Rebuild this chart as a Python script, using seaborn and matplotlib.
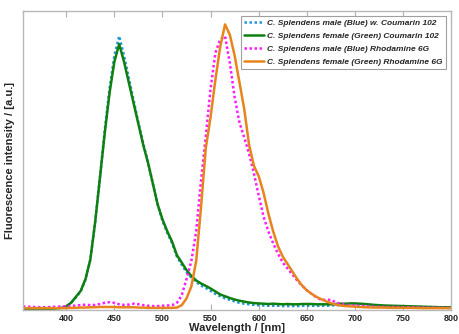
import matplotlib
matplotlib.use("Agg")
import matplotlib.pyplot as plt
import seaborn as sns
import pandas as pd

# wavelength grid (nm)
wavelength = [355, 365, 375, 385,
              395, 400, 405, 410, 415, 420, 425, 430, 435, 440, 445, 450, 455, 460, 465, 470,
              475, 480, 485, 490, 495, 500, 505, 510, 515, 520, 525, 530, 535, 540, 545, 550,
              555, 560, 565, 570, 575, 580, 585, 590, 595, 600, 605, 610, 615, 620, 625, 630,
              635, 640, 645, 650, 655, 660, 665, 670, 675, 680, 685, 690, 695, 700,
              710, 720, 730, 740, 750, 760, 770, 780, 790, 800]

male_coumarin = [0.0, 0.0, 0.0, 0.0,
                 0.003, 0.008, 0.02, 0.038, 0.058, 0.098, 0.165, 0.29, 0.44, 0.6, 0.74, 0.85, 0.916, 0.85, 0.775, 0.70,
                 0.625, 0.555, 0.49, 0.42, 0.35, 0.295, 0.255, 0.22, 0.175, 0.148, 0.122, 0.105, 0.09, 0.078, 0.07, 0.06,
                 0.05, 0.042, 0.035, 0.03, 0.025, 0.02, 0.017, 0.015, 0.013, 0.012, 0.011, 0.01, 0.01, 0.01, 0.009, 0.009,
                 0.009, 0.009, 0.01, 0.01, 0.01, 0.01, 0.01, 0.01, 0.011, 0.012, 0.012, 0.013, 0.013, 0.013,
                 0.011, 0.01, 0.009, 0.008, 0.007, 0.006, 0.005, 0.004, 0.004, 0.003]

female_coumarin = [0.0, 0.0, 0.0, 0.0,
                   0.003, 0.008, 0.02, 0.04, 0.06, 0.1, 0.165, 0.29, 0.44, 0.59, 0.725, 0.83, 0.889, 0.83, 0.76, 0.69,
                   0.62, 0.55, 0.49, 0.42, 0.35, 0.30, 0.26, 0.225, 0.18, 0.155, 0.13, 0.11, 0.095, 0.085, 0.077, 0.068,
                   0.058, 0.048, 0.042, 0.036, 0.031, 0.027, 0.024, 0.021, 0.019, 0.018, 0.017, 0.016, 0.017, 0.016, 0.015, 0.016,
                   0.015, 0.015, 0.016, 0.016, 0.016, 0.015, 0.015, 0.015, 0.015, 0.016, 0.017, 0.017, 0.018, 0.018,
                   0.016, 0.013, 0.011, 0.01, 0.009, 0.008, 0.007, 0.006, 0.005, 0.005]

male_rhodamine = [0.008, 0.006, 0.005, 0.006,
                  0.008, 0.008, 0.009, 0.011, 0.012, 0.014, 0.012, 0.013, 0.016, 0.02, 0.022, 0.02, 0.015, 0.013, 0.014, 0.017,
                  0.015, 0.012, 0.01, 0.009, 0.009, 0.01, 0.011, 0.012, 0.02, 0.045, 0.1, 0.16, 0.26, 0.43, 0.58, 0.74,
                  0.86, 0.905, 0.915, 0.825, 0.71, 0.625, 0.575, 0.52, 0.455, 0.38, 0.31, 0.26, 0.22, 0.185, 0.155, 0.135,
                  0.115, 0.095, 0.078, 0.062, 0.05, 0.038, 0.03, 0.03, 0.03, 0.022, 0.016, 0.013, 0.012, 0.011,
                  0.009, 0.007, 0.006, 0.006, 0.005, 0.005, 0.004, 0.004, 0.003, 0.003]

female_rhodamine = [0.002, 0.002, 0.002, 0.002,
                    0.002, 0.002, 0.003, 0.003, 0.004, 0.004, 0.005, 0.005, 0.006, 0.006, 0.006, 0.006, 0.005, 0.005, 0.005, 0.005,
                    0.004, 0.004, 0.003, 0.003, 0.003, 0.003, 0.003, 0.003, 0.004, 0.012, 0.035, 0.075, 0.16, 0.34, 0.54, 0.645,
                    0.77, 0.88, 0.955, 0.92, 0.85, 0.76, 0.67, 0.55, 0.48, 0.445, 0.39, 0.32, 0.26, 0.21, 0.175, 0.15,
                    0.125, 0.1, 0.078, 0.062, 0.05, 0.04, 0.032, 0.025, 0.019, 0.014, 0.011, 0.009, 0.008, 0.007,
                    0.005, 0.004, 0.004, 0.003, 0.003, 0.003, 0.002, 0.002, 0.002, 0.002]

labels = ["C. Splendens male (Blue) w. Coumarin 102",
          "C. Splendens female (Green) Coumarin 102",
          "C. Splendens male (Blue) Rhodamine 6G",
          "C. Splendens female (Green) Rhodamine 6G"]
x_ticks = [400, 450, 500, 550, 600, 650, 700, 750, 800]

sns.set_theme(style="white")
plt.rcParams['font.family'] = ['Liberation Sans', 'DejaVu Sans']

fig = plt.figure(figsize=(4.59, 3.34), dpi=100)
ax = fig.add_axes([0.050, 0.072, 0.933, 0.895])

series = [male_coumarin, female_coumarin, male_rhodamine, female_rhodamine]
colors = ['#2196d8', '#0f800f', '#ff1cff', '#e8841c']
styles = [(0, (1, 1)), '-', (0, (1, 1)), '-']
for vals, lab, col, ls in zip(series, labels, colors, styles):
    df = pd.DataFrame({"wl": wavelength, "I": vals})
    sns.lineplot(data=df, x="wl", y="I", ax=ax, color=col, linestyle=ls,
                 linewidth=1.8, label=lab)

ax.set_xlim(355, 800)
ax.set_ylim(-0.004, 1.0)
ax.set_xticks(x_ticks)
ax.set_xticklabels([str(t) for t in x_ticks], fontweight='bold', fontsize=6.5)
ax.set_yticks([])
ax.tick_params(axis='x', direction='in', length=4, width=0.8, color='#b0b0b0',
               top=True, bottom=True, pad=3)
for sp in ax.spines.values():
    sp.set_color('#b8b8b8')
    sp.set_linewidth(1.0)
ax.set_xlabel("Wavelength / [nm]", fontweight='bold', fontsize=8, labelpad=0)
ax.set_ylabel("Fluorescence intensity / [a.u.]", fontweight='bold', fontsize=8, labelpad=6)

leg = ax.legend(loc='upper right', fontsize=6, frameon=True, fancybox=False,
                edgecolor='#a0a0a0', framealpha=1, borderaxespad=0.65,
                handlelength=2.4, handletextpad=0.4, borderpad=0.35, labelspacing=0.62)
for t in leg.get_texts():
    t.set_fontstyle('italic')
    t.set_fontweight('bold')
leg.get_frame().set_linewidth(0.8)

fig.savefig("out.png", dpi=100)
